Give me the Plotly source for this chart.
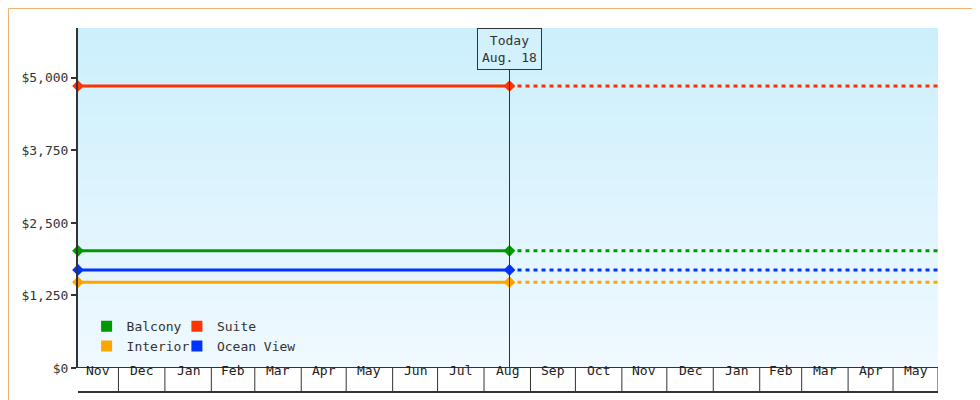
import pandas as pd
import plotly.graph_objects as go

# data
start_date = "2023-11-04"
today = "2024-08-18"
end_date = "2025-05-31"
cabins = ["Balcony", "Suite", "Interior", "Ocean View"]
prices = [2020, 4860, 1480, 1690]
colors = ["#009900", "#ff3300", "#ffa500", "#0033ff"]
month_starts = pd.date_range("2023-12-01", "2025-05-01", freq="MS")
yticks = [0, 1250, 2500, 3750, 5000]
ytick_text = ["$0", "$1,250", "$2,500", "$3,750", "$5,000"]

fig = go.Figure()

# gradient background via heatmap
ys = list(range(0, 5901, 100))
fig.add_trace(go.Heatmap(x=[start_date, end_date], y=ys, z=[[v, v] for v in ys],
                         colorscale=[[0, "#f0f9ff"], [1, "#cbeffc"]], showscale=False,
                         hoverinfo="skip"))

for name, p, c in zip(cabins, prices, colors):
    fig.add_trace(go.Scatter(x=[start_date, today], y=[p, p], mode="lines+markers",
                             line=dict(color=c, width=3), marker=dict(symbol="diamond", size=9, color=c),
                             showlegend=False, cliponaxis=False))
    fig.add_trace(go.Scatter(x=[today, end_date], y=[p, p], mode="lines",
                             line=dict(color=c, width=3, dash="4px,4px"), showlegend=False))

# legend entries
for i, (name, c) in enumerate(zip(cabins, colors)):
    fig.add_trace(go.Scatter(x=[None], y=[None], mode="markers", name=name,
                             marker=dict(symbol="square", size=11, color=c),
                             legend="legend" if i % 2 == 0 else "legend2"))

# today marker
fig.add_shape(type="line", x0=today, x1=today, y0=0, y1=0.95, yref="paper",
              line=dict(color="#333333", width=1))
fig.add_annotation(x=today, y=1.0, yref="paper", yanchor="top", text="Today<br>Aug. 18",
                   showarrow=False, bordercolor="#333333", borderwidth=1, borderpad=4,
                   bgcolor="#d2f1fc", font=dict(size=13, color="#333333"))

# month label band
band = -24 / 340
edges = [pd.Timestamp(start_date)] + list(month_starts) + [pd.Timestamp(end_date)]
for d in edges[1:]:
    fig.add_shape(type="line", x0=d, x1=d, y0=band, y1=0, yref="paper",
                  line=dict(color="#333333", width=1))
fig.add_shape(type="line", x0=start_date, x1=end_date, y0=band, y1=band, yref="paper",
              line=dict(color="#333333", width=2))
for a, b in zip(edges[:-1], edges[1:]):
    fig.add_annotation(x=a + (b - a) / 2, y=band / 2, yref="paper", text=a.strftime("%b"),
                       showarrow=False, font=dict(size=13, color="#222222"))

# orange frame
fig.add_shape(type="rect", xref="paper", yref="paper", x0=-69.5 / 860, x1=909.5 / 860,
              y0=-39.5 / 340, y1=359.5 / 340, line=dict(color="#f0b070", width=1))

legend_style = dict(orientation="v", bgcolor="rgba(0,0,0,0)", yanchor="bottom", y=0.02,
                    font=dict(size=13, color="#333333"), tracegroupgap=0, itemwidth=30)
fig.update_layout(
    width=980, height=400, margin=dict(l=70, r=50, t=20, b=40, autoexpand=False),
    paper_bgcolor="white", plot_bgcolor="white",
    font=dict(family="DejaVu Sans Mono", size=13, color="#333333"),
    xaxis=dict(type="date", range=[start_date, end_date], showticklabels=False,
               showgrid=False, zeroline=False, showline=False, automargin=False),
    yaxis=dict(range=[0, 5860], tickvals=yticks, ticktext=ytick_text,
               ticks="outside", ticklen=5, tickwidth=2, tickcolor="#333333", automargin=False,
               showgrid=False, zeroline=False, showline=True, linewidth=2, linecolor="#333333"),
    legend=dict(legend_style, x=0.01),
    legend2=dict(legend_style, x=0.115),
)
fig.add_shape(type="line", x0=start_date, x1=end_date, y0=0, y1=0, line=dict(color="#333333", width=2))

fig.write_html("out.html")
